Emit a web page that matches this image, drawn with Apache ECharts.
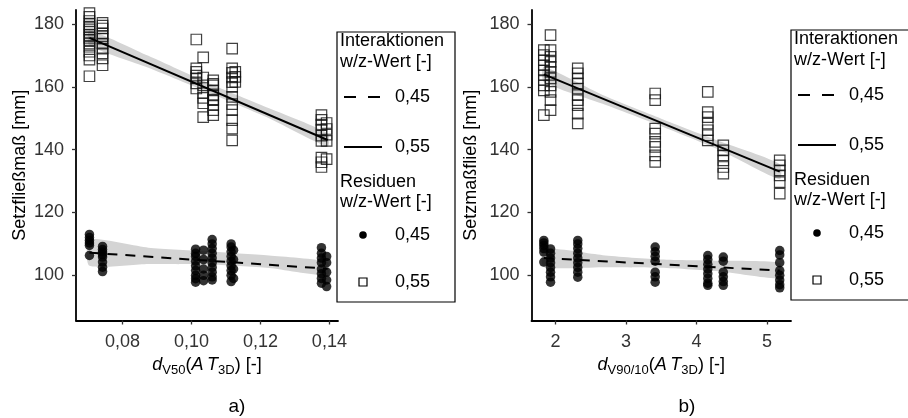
<!DOCTYPE html>
<html>
<head>
<meta charset="utf-8">
<script src="https://cdn.jsdelivr.net/npm/echarts@6/dist/echarts.min.js"></script>
<style>
  html, body { margin: 0; padding: 0; background: #fff; }
  #chart { width: 908px; height: 418px; }
</style>
</head>
<body>
<div id="chart"></div>
<script>
// ---------- panel a): Setzfließmaß vs d_V50 ----------
// measured columns (x position) with their individual values
const aSqColX = [0.0704, 0.0742, 0.1014, 0.1034, 0.1063, 0.1118, 0.1127, 0.1377, 0.1392];
const aSqColY = [
  [183.5, 182.3, 181.0, 180.0, 179.2, 178.3, 177.5, 176.5, 175.6, 174.9, 173.8, 172.8, 171.2, 170.0, 168.7, 163.4],
  [180.4, 179.5, 178.6, 177.0, 176.2, 175.4, 173.8, 172.2, 170.7, 169.1, 166.9],
  [175.1, 165.9, 164.8, 163.6, 162.7, 161.1, 159.5],
  [169.4, 163.0, 160.5, 158.0, 156.5, 154.8, 150.4],
  [162.1, 161.0, 160.5, 158.9, 157.3, 156.0, 155.8, 154.2, 152.6, 151.0],
  [172.2, 165.9, 164.5, 163.0, 161.5, 160.0, 156.8, 154.5, 152.6, 149.4, 146.7, 143.0],
  [164.8, 163.2, 161.6],
  [151.0, 149.5, 148.0, 146.4, 144.5, 142.8, 137.5, 136.0, 134.5],
  [148.5, 146.6, 144.8, 142.8, 137.0]
];
const aDotColX = [0.0704, 0.0742, 0.1012, 0.1035, 0.1060, 0.1115, 0.1122, 0.1377, 0.1392];
const aDotColY = [
  [113.0, 112.0, 111.1, 110.3, 109.5, 106.3],
  [109.2, 108.2, 107.4, 106.6, 105.8, 104.2, 102.6, 101.2],
  [108.3, 107.0, 106.0, 104.5, 103.0, 101.5, 100.0, 98.9, 97.8],
  [108.0, 105.0, 102.0, 100.0, 98.3],
  [111.4, 110.0, 108.5, 107.0, 105.5, 104.0, 102.5, 101.0, 99.5, 98.5],
  [110.0, 109.0, 107.5, 106.0, 104.5, 103.0, 101.5, 100.0, 98.0],
  [108.0, 105.0, 102.0, 99.0],
  [108.8, 107.0, 105.5, 104.0, 102.0, 100.5, 99.0, 97.5],
  [106.0, 104.0, 101.0, 98.5, 96.4]
];
// fitted interaction lines (w/z 0.55 solid, 0.45 dashed) and confidence bands
const aFitX = [0.0704, 0.1395];
const aFit55 = [175.6, 143.1];
const aFit45 = [107.2, 102.1];
const aBandX = [0.0704, 0.0875, 0.1050, 0.1225, 0.1395];
const aBand55Lo = [173.2, 166.1, 158.2, 150.0, 141.0];
const aBand55Hi = [178.0, 169.9, 161.2, 153.2, 145.2];
const aBand45Lo = [103.0, 103.6, 103.4, 102.3, 100.0];
const aBand45Hi = [111.4, 108.8, 107.6, 106.3, 104.2];
const aTicksX = [0.08, 0.10, 0.12, 0.14];

// ---------- panel b): Setzmaßfließ vs d_V90/10 ----------
const bSqColX = [1.835, 1.93, 2.316, 3.414, 4.16, 4.38, 5.18];
const bSqColY = [
  [171.7, 170.1, 168.5, 166.9, 165.3, 163.8, 162.2, 160.5, 158.9, 151.0],
  [176.5, 171.7, 169.6, 168.0, 166.4, 164.8, 162.7, 160.5, 158.4, 155.8, 152.6],
  [165.9, 164.3, 162.7, 161.1, 159.5, 157.4, 155.8, 154.2, 151.5, 148.4],
  [157.9, 155.8, 146.7, 145.1, 142.5, 140.9, 138.2, 136.1],
  [158.4, 152.0, 150.4, 148.3, 146.2, 144.6, 143.0],
  [141.4, 139.8, 138.2, 136.6, 134.5, 132.4],
  [136.6, 135.0, 133.4, 131.8, 129.7, 126.0]
];
const bDotColX = [1.835, 1.93, 2.316, 3.414, 4.16, 4.38, 5.18];
const bDotColY = [
  [111.1, 110.3, 109.5, 108.5, 107.4, 104.2],
  [108.4, 107.0, 105.5, 104.0, 102.5, 101.0, 99.5, 97.8],
  [111.1, 110.0, 108.5, 107.0, 105.5, 104.0, 102.5, 101.0, 99.4],
  [109.0, 107.5, 106.0, 104.5, 101.0, 99.5, 97.8],
  [106.3, 105.0, 103.5, 102.0, 100.5, 99.0, 97.5, 96.8],
  [105.8, 104.5, 101.0, 99.5, 98.0, 96.8],
  [107.9, 106.5, 104.0, 101.5, 100.0, 98.5, 97.0, 96.0]
];
const bFitX = [1.835, 5.18];
const bFit55 = [164.0, 133.0];
const bFit45 = [105.5, 101.5];
const bBandX = [1.835, 2.67, 3.5, 4.35, 5.18];
const bBand55Lo = [161.6, 154.6, 147.5, 139.7, 130.6];
const bBand55Hi = [166.4, 157.4, 149.9, 142.5, 135.4];
const bBand45Lo = [102.6, 102.6, 102.4, 101.2, 99.1];
const bBand45Hi = [108.4, 106.4, 105.0, 104.6, 103.9];
const bTicksX = [2, 3, 4, 5];

const yTicks = [100, 120, 140, 160, 180];
const levelLabels = ['0,45', '0,55'];

const FONT = 'Liberation Sans, Arial, sans-serif';
const FS = 18;

function columnsToPoints(colX, colY) {
  const pts = [];
  colX.forEach((x, i) => colY[i].forEach(y => pts.push([x, y])));
  return pts;
}

function bandSeries(idx, bx, lo, hi) {
  return {
    type: 'custom', xAxisIndex: idx, yAxisIndex: idx, z: 1, silent: true,
    data: [[bx[0], lo[0]]],
    renderItem: function (params, api) {
      const pts = [];
      for (let i = 0; i < bx.length; i++) pts.push(api.coord([bx[i], hi[i]]));
      for (let i = bx.length - 1; i >= 0; i--) pts.push(api.coord([bx[i], lo[i]]));
      return { type: 'polygon', shape: { points: pts, smooth: 0.2 }, style: { fill: '#d4d4d4' } };
    }
  };
}

function fitSeries(idx, fx, fy, dashed) {
  return {
    type: 'line', xAxisIndex: idx, yAxisIndex: idx, z: 4, silent: true,
    data: fx.map((x, i) => [x, fy[i]]), symbol: 'none',
    lineStyle: { color: '#000', width: 2, type: dashed ? [10, 8] : 'solid' }
  };
}

function squareSeries(idx, pts) {
  return {
    type: 'scatter', xAxisIndex: idx, yAxisIndex: idx, z: 3, data: pts,
    symbol: 'rect', symbolSize: 10.5,
    itemStyle: { color: 'rgba(255,255,255,0)', borderColor: '#111', borderWidth: 1.2 }
  };
}

function dotSeries(idx, pts) {
  return {
    type: 'scatter', xAxisIndex: idx, yAxisIndex: idx, z: 3, data: pts,
    symbol: 'circle', symbolSize: 9.5, itemStyle: { color: '#000' }
  };
}

// italic / upright / lowered subscript pieces of the axis titles
const richName = {
  n: { fontSize: FS, fontFamily: FONT, color: '#000', verticalAlign: 'top' },
  i: { fontSize: FS, fontFamily: FONT, fontStyle: 'italic', color: '#000', verticalAlign: 'top' },
  s: { fontSize: 13, fontFamily: FONT, color: '#000', verticalAlign: 'top', padding: [8, 0, 0, 0] }
};

function xAxisCfg(idx, min, max, ticks, fmt, name) {
  return {
    type: 'value', gridIndex: idx, min: min, max: max,
    axisLine: { onZero: false, lineStyle: { color: '#000', width: 1.8 } },
    axisTick: { show: true, length: 4, customValues: ticks, lineStyle: { color: '#333', width: 1.3 } },
    axisLabel: { customValues: ticks, formatter: fmt, fontSize: FS, fontFamily: FONT, color: '#333', margin: 13 },
    splitLine: { show: false },
    name: name, nameLocation: 'middle', nameGap: 35,
    nameTextStyle: { rich: richName }
  };
}

function yAxisCfg(idx, name, gap) {
  return {
    type: 'value', gridIndex: idx, min: 85.6, max: 184.5,
    axisLine: { onZero: false, lineStyle: { color: '#000', width: 1.8 } },
    axisTick: { show: true, length: 4, customValues: yTicks, lineStyle: { color: '#333', width: 1.3 } },
    axisLabel: { customValues: yTicks, fontSize: FS, fontFamily: FONT, color: '#333', margin: 12 },
    splitLine: { show: false },
    name: name, nameLocation: 'middle', nameRotate: 90, nameGap: gap,
    nameTextStyle: { fontSize: FS, fontFamily: FONT, color: '#000' }
  };
}

// legend block with the two sections (line types, point shapes)
function legendBox(x0, y0) {
  const t = (text, x, y) => ({
    type: 'text', x: x, y: y,
    style: { text: text, fontSize: FS, fontFamily: FONT, fill: '#000', textVerticalAlign: 'middle' }
  });
  return {
    type: 'group', x: x0, y: y0, silent: true,
    children: [
      { type: 'rect', shape: { x: 0, y: 0, width: 118, height: 270 }, style: { fill: '#fff', stroke: '#000', lineWidth: 1.2 } },
      t('Interaktionen', 3, 9),
      t('w/z-Wert [-]', 3, 30),
      { type: 'line', shape: { x1: 7, y1: 65, x2: 45, y2: 65 }, style: { stroke: '#000', lineWidth: 2, lineDash: [12, 12] } },
      t(levelLabels[0], 58, 65),
      { type: 'line', shape: { x1: 7, y1: 115, x2: 45, y2: 115 }, style: { stroke: '#000', lineWidth: 2 } },
      t(levelLabels[1], 58, 115),
      t('Residuen', 3, 150),
      t('w/z-Wert [-]', 3, 170),
      { type: 'circle', shape: { cx: 26, cy: 203, r: 3.8 }, style: { fill: '#000' } },
      t(levelLabels[0], 58, 203),
      { type: 'rect', shape: { x: 22, y: 246, width: 8, height: 8 }, style: { fill: '#fff', stroke: '#000', lineWidth: 1.2 } },
      t(levelLabels[1], 58, 250)
    ]
  };
}

const chart = echarts.init(document.getElementById('chart'), null, { renderer: 'canvas' });

chart.setOption({
  animation: false,
  backgroundColor: '#fff',
  grid: [
    { left: 76, top: 10, width: 262, height: 310.5 },
    { left: 531.5, top: 10, width: 259.5, height: 310.5 }
  ],
  xAxis: [
    xAxisCfg(0, 0.0665, 0.1425, aTicksX, v => v.toFixed(2).replace('.', ','),
      '{i|d}{s|V50}{n|(}{i|A\u2009T}{s|3D}{n|) [-]}'),
    xAxisCfg(1, 1.66, 5.34, bTicksX, v => String(v),
      '{i|d}{s|V90/10}{n|(}{i|A\u2009T}{s|3D}{n|) [-]}')
  ],
  yAxis: [
    yAxisCfg(0, 'Setzfließmaß [mm]', 47),
    yAxisCfg(1, 'Setzmaßfließ [mm]', 51)
  ],
  series: [
    bandSeries(0, aBandX, aBand55Lo, aBand55Hi),
    bandSeries(0, aBandX, aBand45Lo, aBand45Hi),
    squareSeries(0, columnsToPoints(aSqColX, aSqColY)),
    dotSeries(0, columnsToPoints(aDotColX, aDotColY)),
    fitSeries(0, aFitX, aFit55, false),
    fitSeries(0, aFitX, aFit45, true),
    bandSeries(1, bBandX, bBand55Lo, bBand55Hi),
    bandSeries(1, bBandX, bBand45Lo, bBand45Hi),
    squareSeries(1, columnsToPoints(bSqColX, bSqColY)),
    dotSeries(1, columnsToPoints(bDotColX, bDotColY)),
    fitSeries(1, bFitX, bFit55, false),
    fitSeries(1, bFitX, bFit45, true)
  ],
  graphic: [
    legendBox(337, 32),
    legendBox(791, 30),
    { type: 'text', x: 237, y: 407, style: { text: 'a)', fontSize: 19, fontFamily: FONT, fill: '#000', textAlign: 'center', textVerticalAlign: 'middle' } },
    { type: 'text', x: 687, y: 407, style: { text: 'b)', fontSize: 19, fontFamily: FONT, fill: '#000', textAlign: 'center', textVerticalAlign: 'middle' } }
  ]
});
</script>
</body>
</html>
